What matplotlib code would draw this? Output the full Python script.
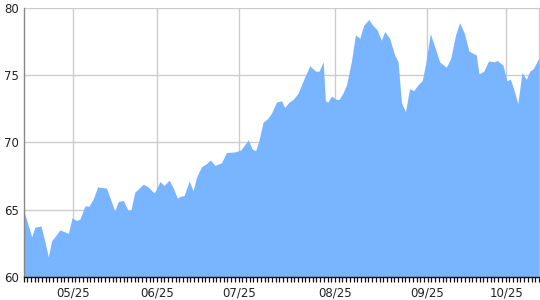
import matplotlib
matplotlib.use("Agg")
import matplotlib.pyplot as plt
import numpy as np

# position in trading days, value
days = [0.0, 2.2, 3.1, 4.7, 5.8, 6.7, 7.6, 8.5, 9.8, 10.7, 12.1, 13.1, 14.3, 15.2,
        16.6, 17.6, 18.8, 20.0, 22.4, 24.6, 25.5, 26.9, 28.2, 29.0, 30.0, 32.3,
        33.6, 35.0, 35.4, 36.8, 37.9, 39.3, 40.4, 41.5, 42.2, 43.3, 44.7, 45.7,
        46.7, 48.0, 49.2, 50.4, 51.6, 53.4, 54.7, 57.0, 58.6, 60.6, 61.7, 62.6,
        63.4, 64.6, 65.9, 66.9, 68.2, 69.6, 70.4, 71.6, 72.7, 74.0, 75.8, 77.2,
        78.8, 79.7, 80.8, 81.4, 82.1, 83.0, 84.4, 85.1, 86.2, 87.1, 88.4, 89.5,
        90.7, 91.7, 93.1, 94.2, 95.3, 96.5, 97.4, 98.7, 100.1, 101.0, 101.9,
        102.3, 103.0, 104.1, 105.2, 106.4, 107.5, 108.4, 109.7, 110.9, 112.2,
        114.0, 115.2, 116.5, 117.6, 118.9, 120.1, 122.1, 122.8, 124.1, 125.4,
        127.0, 127.7, 129.3, 130.3, 131.3, 132.2, 133.3, 134.4, 135.6, 136.5,
        137.5, 139.0]
values = [65.0, 63.0, 63.7, 63.8, 62.6, 61.5, 62.7, 63.0, 63.5, 63.4, 63.25, 64.4,
          64.2, 64.3, 65.3, 65.25, 65.8, 66.7, 66.6, 64.9, 65.6, 65.7, 64.95, 65.0,
          66.3, 66.9, 66.7, 66.3, 66.3, 67.1, 66.8, 67.2, 66.6, 65.85, 66.0, 66.05,
          67.15, 66.4, 67.45, 68.2, 68.4, 68.7, 68.3, 68.5, 69.25, 69.3, 69.44,
          70.2, 69.5, 69.4, 70.06, 71.5, 71.8, 72.2, 73.0, 73.1, 72.6, 73.0, 73.2,
          73.65, 74.85, 75.7, 75.3, 75.3, 76.0, 73.1, 73.0, 73.45, 73.2, 73.2,
          73.7, 74.3, 76.0, 78.0, 77.75, 78.7, 79.15, 78.7, 78.4, 77.6, 78.25,
          77.75, 76.5, 76.0, 73.0, 72.7, 72.3, 74.0, 73.85, 74.3, 74.6, 75.8,
          78.1, 77.1, 76.0, 75.6, 76.25, 78.0, 78.9, 78.1, 76.8, 76.5, 75.1,
          75.3, 76.06, 76.0, 76.1, 75.75, 74.6, 74.7, 73.95, 72.9, 75.2, 74.7,
          75.3, 75.5, 76.3]

tick_days = [13.4, 35.9, 58.1, 84.1, 108.9, 130.2]
tick_labels = ["05/25", "06/25", "07/25", "08/25", "09/25", "10/25"]
y_ticks = [60, 65, 70, 75, 80]

fig = plt.figure(figsize=(5.4, 3.0), dpi=100)
ax = fig.add_axes([23.5 / 540, 1 - 277 / 300, 515.5 / 540, 269 / 300])

ax.fill_between(days, values, 60, color="#78b4ff", linewidth=0, zorder=2)

ax.set_xlim(0, 139)
ax.set_ylim(60, 80)

ax.set_yticks(y_ticks)
ax.set_yticklabels([str(v) for v in y_ticks])
ax.set_xticks(tick_days)
ax.set_xticklabels(tick_labels)
ax.set_xticks(np.arange(0, 140, 1), minor=True)

ax.grid(True, which="major", color="#cccccc", linewidth=1, zorder=0)
ax.set_axisbelow(True)

ax.tick_params(axis="y", length=0, pad=3, labelsize=8.5, colors="#222222")
ax.tick_params(axis="x", which="major", length=0, pad=7, labelsize=8.5, colors="#222222")
ax.tick_params(axis="x", which="minor", length=3.5, width=0.9, color="#111111", direction="out")

ax.spines["top"].set_visible(False)
ax.spines["right"].set_color("#cccccc")
ax.spines["right"].set_linewidth(1)
ax.spines["right"].set_zorder(1)
ax.spines["left"].set_color("#888888")
ax.spines["left"].set_linewidth(1)
ax.spines["bottom"].set_color("#111111")
ax.spines["bottom"].set_linewidth(1)

fig.savefig("out.png", dpi=100)
